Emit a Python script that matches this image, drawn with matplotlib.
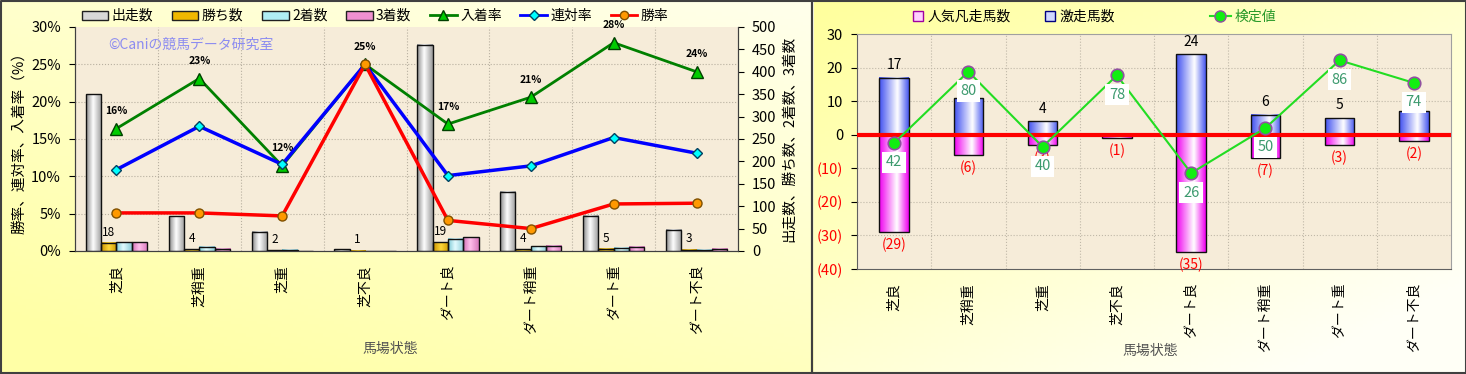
import numpy as np
import matplotlib
matplotlib.use('Agg')
from matplotlib import pyplot as plt
from matplotlib.colors import LinearSegmentedColormap, to_rgb
from matplotlib.patches import Patch
from matplotlib.lines import Line2D

plt.rcParams['font.family'] = ['Noto Sans CJK JP', 'DejaVu Sans']

# ---- data ----
conds = ['芝良', '芝稍重', '芝重', '芝不良', 'ダート良', 'ダート稍重', 'ダート重', 'ダート不良']
runs = [350, 78, 43, 4, 460, 132, 79, 47]
wins = [18, 4, 2, 1, 19, 4, 5, 3]
seconds = [20, 9, 3, 0, 27, 11, 7, 3]
thirds = [20, 5, 0, 0, 31, 12, 10, 5]
win_rate = [5.1, 5.1, 4.7, 25.0, 4.1, 3.0, 6.3, 6.4]
rentai_rate = [10.9, 16.7, 11.6, 25.0, 10.1, 11.4, 15.2, 13.1]
place_rate = [16.4, 23.1, 11.4, 25.0, 17.0, 20.6, 27.9, 24.0]
place_labels = ['16%', '23%', '12%', '25%', '17%', '21%', '28%', '24%']

hot = [17, 11, 4, 0, 24, 6, 5, 7]          # 激走馬数
hot_labels = ['17', '', '4', '', '24', '6', '5', '']  # 11 and 7 sit under the 検定値 boxes
flop = [-29, -6, -3, -1, -35, -7, -3, -2]  # 人気凡走馬数
test_val = [42, 80, 40, 78, 26, 50, 86, 74]  # 検定値

W, H = 1466, 374
fig = plt.figure(figsize=(W/100, H/100), dpi=100)

# ---- panel backgrounds ----
bg = fig.add_axes([0, 0, 1, 1], zorder=-10)
bg.set_axis_off()
yy, xx = np.mgrid[0:1:120j, 0:1:400j]
split = 812 / W
def mix(c1, c2, t):
    c1 = np.array(to_rgb(c1)); c2 = np.array(to_rgb(c2))
    return c1 + (c2 - c1) * t[..., None]
lx = xx / split
tl = np.clip(0.65*yy + 0.45*(1 - lx), 0, 1)
rx = (xx - split) / (1 - split)
tr = np.clip(0.55*rx + 0.6*yy, 0, 1)
left_col = mix('#FFFFEC', '#FFFFA6', tl)
right_col = mix('#FFFF9C', '#FFFFF6', tr)
img = np.where((xx < split)[..., None], left_col, right_col)
bg.imshow(img, extent=[0, 1, 0, 1], aspect='auto', origin='upper')
bg.set_xlim(0, 1); bg.set_ylim(0, 1)
for x0, x1 in [(0.5/W, split), (split, 1 - 0.5/W)]:
    bg.plot([x0, x1, x1, x0, x0], [0.003, 0.003, 0.997, 0.997, 0.003], color='#404040', lw=1.5)


def grad_bars(ax, x, h, w, cols, pos, bottom=0, zorder=3):
    cmap = LinearSegmentedColormap.from_list('g', list(zip(pos, cols)))
    grad = np.linspace(0, 1, 64)[None, :]
    bars = ax.bar(x, h, w, bottom=bottom, facecolor='none', edgecolor='#101010', lw=1.0, zorder=zorder + 0.1)
    for r in bars:
        x0, y0 = r.get_xy()
        hh = r.get_height()
        if hh == 0:
            continue
        ax.imshow(grad, extent=[x0, x0 + r.get_width(), y0, y0 + hh], aspect='auto',
                  cmap=cmap, zorder=zorder, interpolation='bicubic')
    return bars


# ================= left chart =================
xs = np.arange(len(conds))
axb = fig.add_axes([75/W, 1 - 251/H, 663/W, 224/H])
axb.set_facecolor('#F6ECD9')
axl = axb.twinx()
axb.yaxis.tick_right()
axb.yaxis.set_label_position('right')
axl.yaxis.tick_left()
axl.yaxis.set_label_position('left')

bw = 0.185
grad_bars(axb, xs - 1.5*bw, runs, bw, ['#8A8A8A', '#FFFFFF', '#9A9A9A'], [0, 0.45, 1])
grad_bars(axb, xs - 0.5*bw, wins, bw, ['#C89000', '#FFD83A', '#D09A00'], [0, 0.5, 1])
grad_bars(axb, xs + 0.5*bw, seconds, bw, ['#7CC8D4', '#E4FCFF', '#8CCCD8'], [0, 0.45, 1])
grad_bars(axb, xs + 1.5*bw, thirds, bw, ['#D070B4', '#FFC0EC', '#D878BC'], [0, 0.45, 1])
for x, n in zip(xs, wins):
    axb.annotate(str(n), (x - 0.5*bw, n), xytext=(0, 3), textcoords='offset points',
                 ha='center', va='bottom', fontsize=8.5, zorder=6)

axb.set_xlim(-0.5, len(conds) - 0.5)
axb.set_ylim(0, 500)
axb.set_yticks(np.arange(0, 501, 50))
for p in range(5, 30, 5):
    axb.axhline(p * 500 / 30, color='#B8B0A0', lw=0.8, ls=':', zorder=1)
for b in np.arange(0.5, len(conds) - 0.5):
    axb.axvline(b, color='#B8B0A0', lw=0.8, ls=':', zorder=1)

axl.plot(xs, place_rate, color='#008000', lw=2, marker='^', ms=8, mfc='#00CC00', mec='#004000', zorder=5)
axl.plot(xs, rentai_rate, color='#0000FF', lw=2.5, marker='D', ms=5, mfc='#00FFFF', mec='#004060', zorder=5)
axl.plot(xs, win_rate, color='#FF0000', lw=2.5, marker='o', ms=6.5, mfc='#FF9900', mec='#805000', zorder=6)
for x, v, s in zip(xs, place_rate, place_labels):
    axl.annotate(s, (x, v), xytext=(0, 9), textcoords='offset points', ha='center', va='bottom',
                 fontsize=7.5, fontweight='bold')
axl.set_ylim(0, 30)
axl.set_yticks(np.arange(0, 31, 5))
axl.set_yticklabels([f'{v}%' for v in range(0, 31, 5)])
axl.text(0.05, 0.92, '©Caniの競馬データ研究室', transform=axl.transAxes, color='#8C8CF0', fontsize=10,
         va='center')

axb.set_xticks(xs)
axb.set_xticklabels(conds, rotation=90, va='top', ha='center', fontsize=10)
axb.tick_params(axis='x', length=0, pad=10)
axb.tick_params(axis='y', labelsize=10.5, length=4, pad=6)
axl.tick_params(axis='y', labelsize=10.5, length=4, pad=6)
for a in (axb, axl):
    for s in a.spines.values():
        s.set_color('#404040')
    a.spines['top'].set_visible(False)
axl.set_ylabel('勝率、連対率、入着率（%）', fontsize=10.5, labelpad=4)
axb.set_ylabel('出走数、勝ち数、2着数、3着数', fontsize=10.5, labelpad=4, rotation=90)
fig.text(390/W, 1 - 349/H, '馬場状態', ha='center', va='center', fontsize=10, color='#505050')

hl = [Patch(fc='#D8D8D8', ec='#202020', label='出走数'),
      Patch(fc='#F0B800', ec='#202020', label='勝ち数'),
      Patch(fc='#B0EEF4', ec='#202020', label='2着数'),
      Patch(fc='#F090D0', ec='#202020', label='3着数'),
      Line2D([], [], color='#008000', lw=2, marker='^', ms=7, mfc='#00CC00', mec='#004000', label='入着率'),
      Line2D([], [], color='#0000FF', lw=2, marker='D', ms=5, mfc='#00FFFF', mec='#004060', label='連対率'),
      Line2D([], [], color='#FF0000', lw=2, marker='o', ms=6, mfc='#FF9900', mec='#805000', label='勝率')]
fig.legend(handles=hl, loc='center', bbox_to_anchor=(375/W, 1 - 16/H), ncol=7, frameon=False,
           fontsize=10, handlelength=1.9, handleheight=0.6, columnspacing=1.35, handletextpad=0.25)

# ================= right chart =================
axr = fig.add_axes([857/W, 1 - 269/H, 594/W, 235/H])
axr.set_facecolor('#F6ECD9')
rw = 0.4
grad_bars(axr, xs, hot, rw, ['#4050F0', '#FFFFFF', '#4858F0'], [0, 0.62, 1])
grad_bars(axr, xs, flop, rw, ['#F000F0', '#FFFFFF', '#F000F0'], [0, 0.6, 1])
for x, v, s in zip(xs, hot, hot_labels):
    if s:
        axr.annotate(s, (x, v), xytext=(0, 4), textcoords='offset points', ha='center', va='bottom',
                     fontsize=10, zorder=4)
for x, v in zip(xs, flop):
    axr.annotate(f'({-v})', (x, v), xytext=(0, -4), textcoords='offset points', ha='center', va='top',
                 fontsize=10, color='#FF0000', zorder=4)
axr.axhline(0, color='#FF0000', lw=3, zorder=4)
axr.set_xlim(-0.5, len(conds) - 0.5)
axr.set_ylim(-40, 30)
ticks = np.arange(-40, 31, 10)
axr.set_yticks(ticks)
axr.set_yticklabels([str(t) if t >= 0 else f'({-t})' for t in ticks])
for lab, t in zip(axr.get_yticklabels(), ticks):
    if t < 0:
        lab.set_color('#FF0000')
for t in ticks[1:-1]:
    axr.axhline(t, color='#C0B8A8', lw=0.8, ls=':', zorder=1)
for b in np.arange(0.5, len(conds) - 0.5):
    axr.axvline(b, color='#C0B8A8', lw=0.8, ls=':', zorder=1)
axr.set_xticks(xs)
axr.set_xticklabels(conds, rotation=90, va='top', ha='center', fontsize=10)
axr.tick_params(axis='x', length=0, pad=10)
axr.tick_params(axis='y', labelsize=10.5, length=4, pad=6)
for s in axr.spines.values():
    s.set_color('#606060')
axr.spines['top'].set_color('#A0A0A0')
axr.spines['right'].set_color('#A0A0A0')

axt = axr.twinx()
axt.set_ylim(-25, 100)
axt.set_axis_off()
axt.plot(xs, test_val, color='#22DD22', lw=1.5, marker='o', ms=9, mfc='#11EE11', mec='#9050A0', mew=1.2, zorder=5)
for x, v in zip(xs, test_val):
    axt.annotate(str(v), (x, v), xytext=(0, -14), textcoords='offset points', ha='center', va='center',
                 fontsize=10.5, color='#3C9A6E', zorder=6,
                 bbox=dict(boxstyle='square,pad=0.25', fc='white', ec='none'))
fig.text(1150/W, 1 - 351/H, '馬場状態', ha='center', va='center', fontsize=10, color='#505050')

hr = [Line2D([], [], ls='none', marker='s', ms=7, mfc='#FFD0FF', mec='#A000A0', label='人気凡走馬数'),
      Line2D([], [], ls='none', marker='s', ms=7, mfc='#D0D8FF', mec='#000080', label='激走馬数')]
fig.legend(handles=hr, loc='center', bbox_to_anchor=(1014/W, 1 - 17/H), ncol=2, frameon=False,
           fontsize=10, handlelength=0.8, columnspacing=2.4, handletextpad=0.3)
ht = [Line2D([], [], color='#22DD22', lw=1.5, marker='o', ms=8, mfc='#11EE11', mec='#9050A0', label='検定値')]
lg = fig.legend(handles=ht, loc='center', bbox_to_anchor=(1243/W, 1 - 17/H), frameon=False,
                fontsize=10, handlelength=1.5, handletextpad=0.3)
lg.get_texts()[0].set_color('#2A9A2A')

fig.savefig('out.png', dpi=100)
